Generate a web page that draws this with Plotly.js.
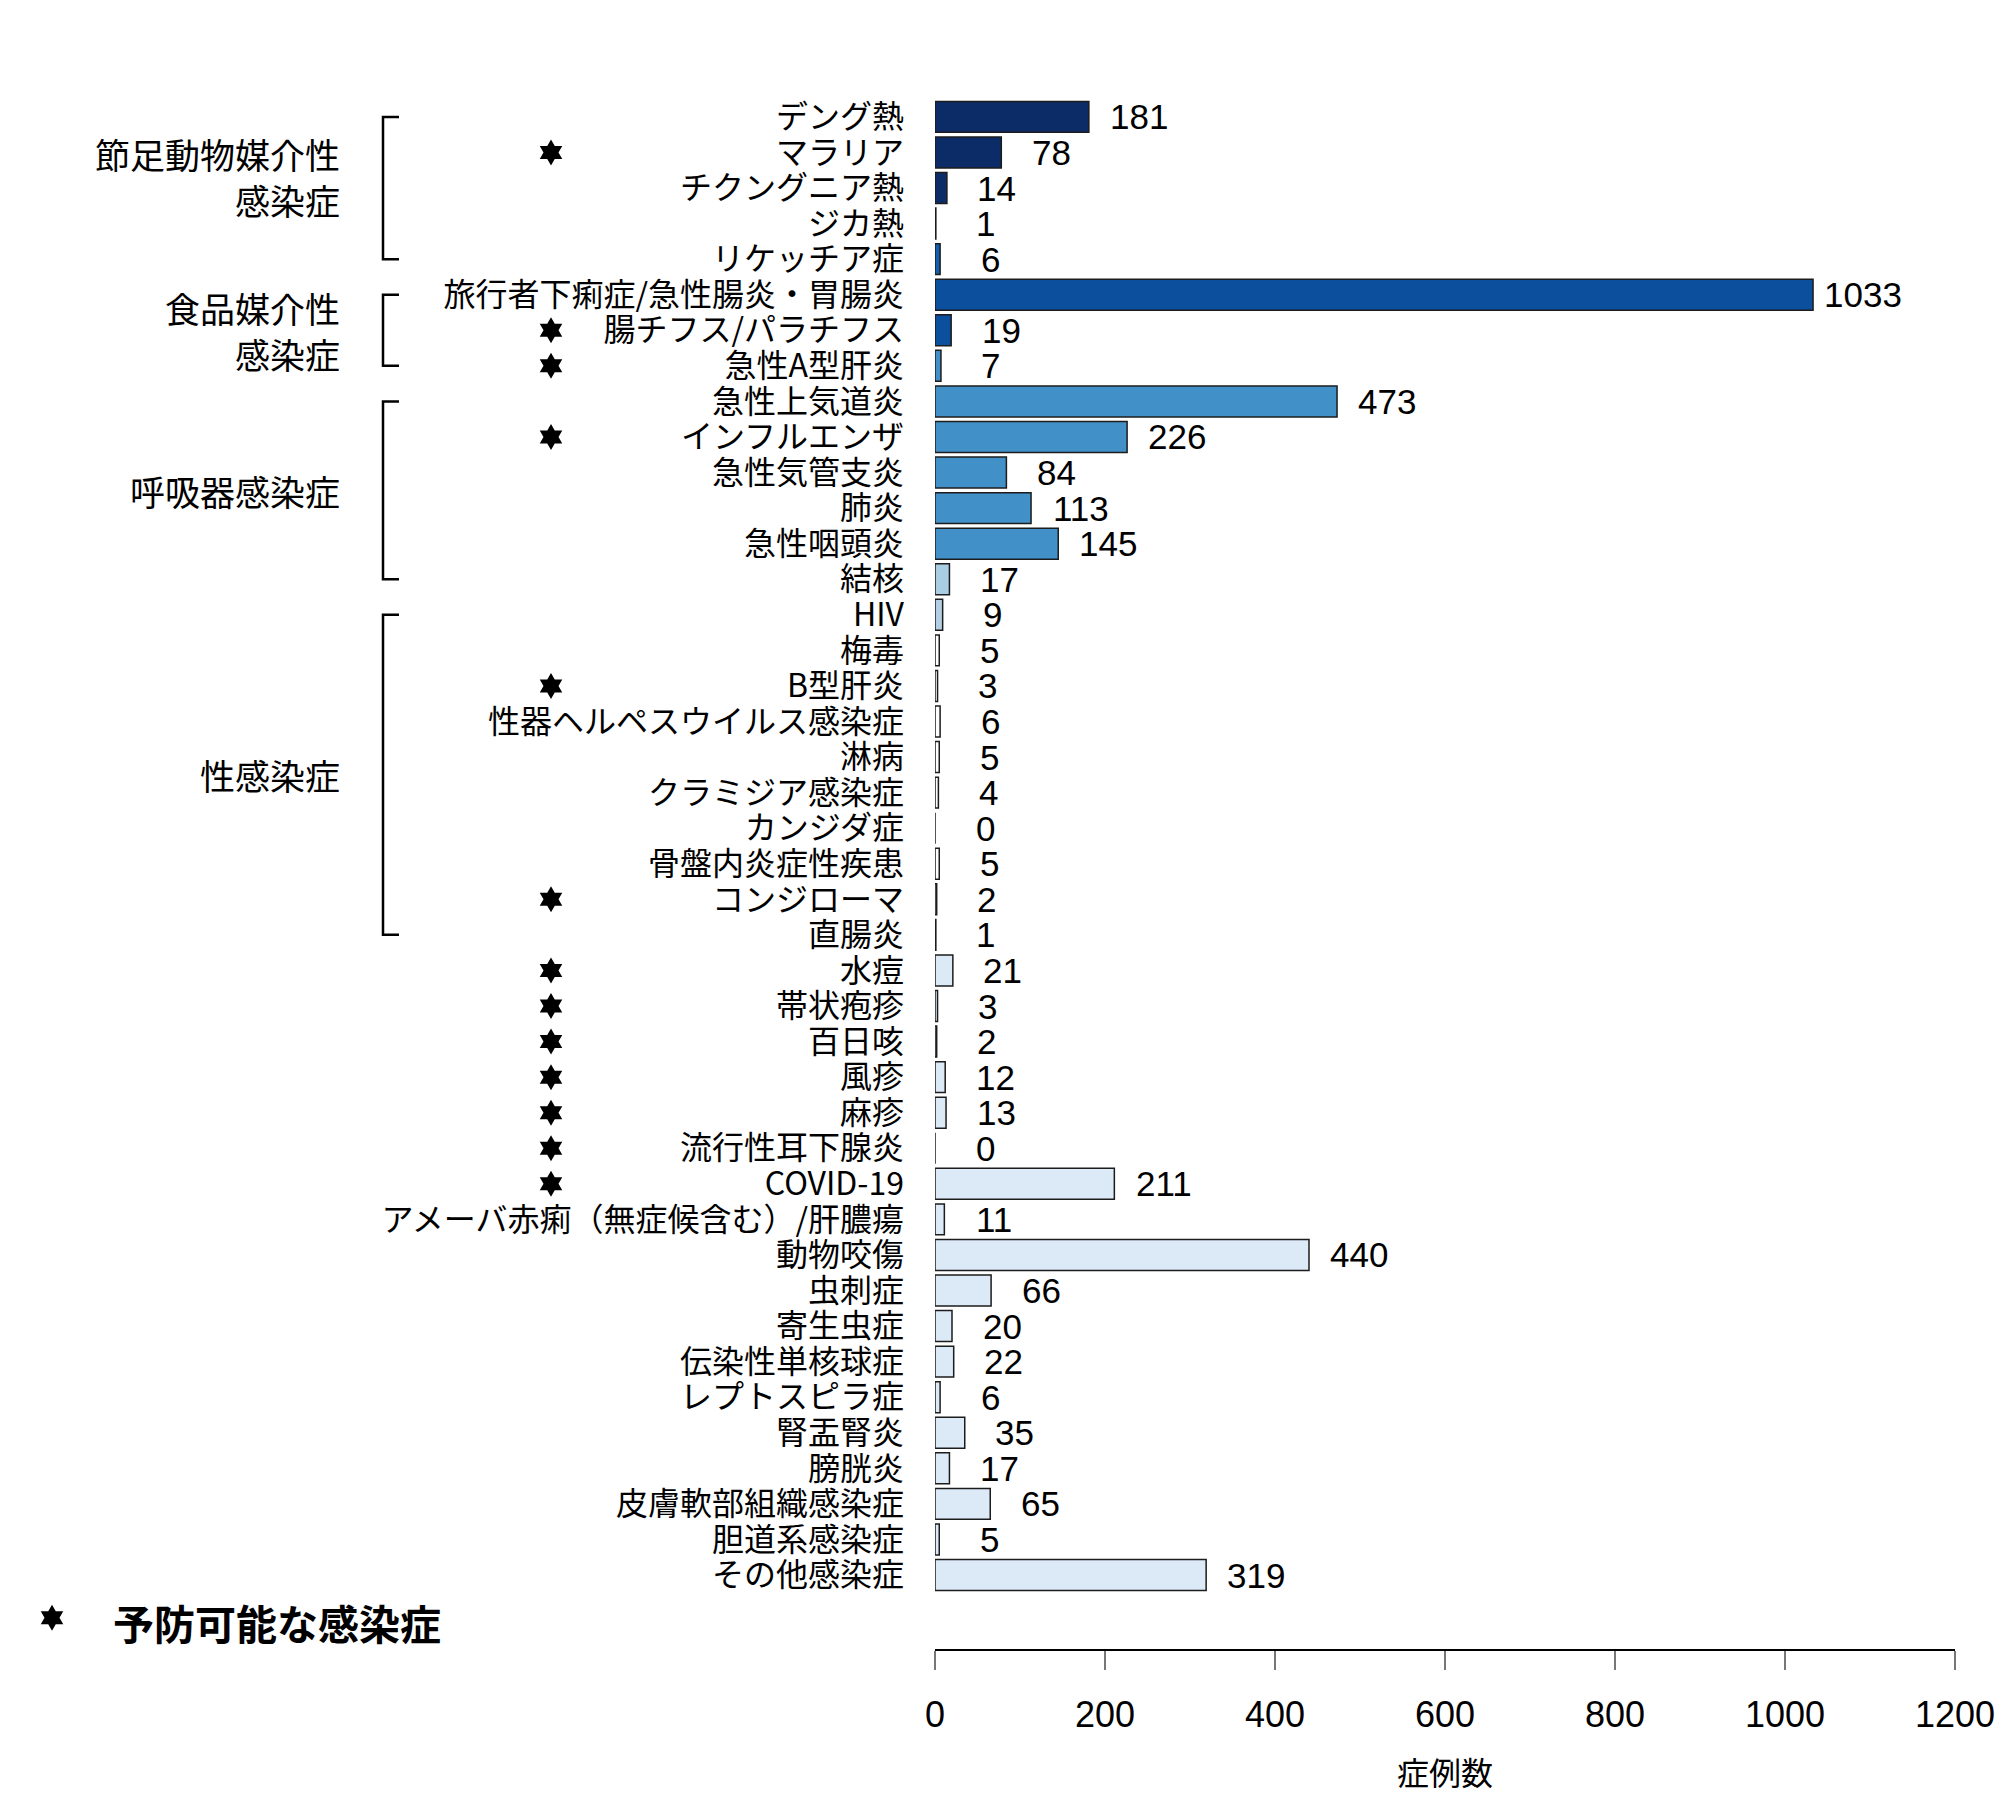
<!DOCTYPE html>
<html>
<head>
<meta charset="utf-8">
<script src="https://cdn.plot.ly/plotly-3.0.1.min.js"></script>
<style>
  body { margin: 0; background: #fff; }
  #chart { width: 2000px; height: 1800px; }
</style>
</head>
<body>
<div id="chart"></div>
<script>
// categories, top to bottom
const categories = [
  "デング熱", "マラリア", "チクングニア熱", "ジカ熱", "リケッチア症",
  "旅行者下痢症/急性腸炎・胃腸炎", "腸チフス/パラチフス", "急性A型肝炎",
  "急性上気道炎", "インフルエンザ", "急性気管支炎", "肺炎", "急性咽頭炎", "結核",
  "HIV", "梅毒", "B型肝炎", "性器ヘルペスウイルス感染症", "淋病", "クラミジア感染症",
  "カンジダ症", "骨盤内炎症性疾患", "コンジローマ", "直腸炎",
  "水痘", "帯状疱疹", "百日咳", "風疹", "麻疹", "流行性耳下腺炎", "COVID-19",
  "アメーバ赤痢（無症候含む）/肝膿瘍", "動物咬傷", "虫刺症", "寄生虫症", "伝染性単核球症",
  "レプトスピラ症", "腎盂腎炎", "膀胱炎", "皮膚軟部組織感染症", "胆道系感染症", "その他感染症"
];
const cases = [
  181, 78, 14, 1, 6,
  1033, 19, 7,
  473, 226, 84, 113, 145, 17,
  9, 5, 3, 6, 5, 4, 0, 5, 2, 1,
  21, 3, 2, 12, 13, 0, 211,
  11, 440, 66, 20, 22, 6, 35, 17, 65, 5, 319
];
// vaccine-preventable diseases (marked with a star)
const preventable = [
  "マラリア", "腸チフス/パラチフス", "急性A型肝炎", "インフルエンザ", "B型肝炎",
  "コンジローマ", "水痘", "帯状疱疹", "百日咳", "風疹", "麻疹", "流行性耳下腺炎", "COVID-19"
];
// bracketed groups
const groupNames = ["節足動物媒介性<br>感染症", "食品媒介性<br>感染症", "呼吸器感染症", "性感染症"];
const groupFirst = ["デング熱", "旅行者下痢症/急性腸炎・胃腸炎", "急性上気道炎", "HIV"];
const groupLast = ["リケッチア症", "急性A型肝炎", "結核", "直腸炎"];
const xTicks = [0, 200, 400, 600, 800, 1000, 1200];

const navy = "#0c2c68", blue = "#0b4f9d", mid = "#1460ad", sky = "#4190c8",
      pale = "#a9cde3", white = "#ffffff", ice = "#dce9f6";
const barColors = [
  navy, navy, navy, navy, mid,
  blue, blue, sky,
  sky, sky, sky, sky, sky, pale,
  "#b4cfe4", white, white, white, white, white, white, white, white, white,
  ice, ice, ice, ice, ice, ice, ice,
  ice, ice, ice, ice, ice, ice, ice, ice, ice, ice, ice
];

const jp = "Noto Sans CJK JP";
const num = "Liberation Sans, Arial, sans-serif";

// x position of left decorations in paper units (plot area starts at 0)
const pad = (px) => (px - 935) / 1020;

// six-pointed star outline in pixels around its anchor
function hexagramPath(R) {
  const r = R / Math.sqrt(3);
  let p = "";
  for (let k = 0; k < 12; k++) {
    const a = Math.PI / 2 + k * Math.PI / 6;
    const rad = k % 2 === 0 ? R : r;
    p += (k === 0 ? "M" : " L") + (rad * Math.cos(a)).toFixed(2) + "," + (rad * Math.sin(a)).toFixed(2);
  }
  return p + " Z";
}
const starPath = hexagramPath(13);

const bars = {
  type: "bar",
  orientation: "h",
  x: cases,
  y: categories,
  marker: { color: barColors, line: { color: "#1c1c1c", width: 1.5 } },
  hoverinfo: "x+y"
};

const annotations = [];
cases.forEach((v, i) => {
  annotations.push({
    x: v, y: categories[i], xref: "x", yref: "y",
    text: String(v), showarrow: false, xanchor: "center", xshift: 50,
    font: { family: num, size: 35, color: "#000" }
  });
});

const shapes = [];
preventable.forEach((c) => {
  shapes.push({
    type: "path", xref: "paper", yref: "y",
    xsizemode: "pixel", ysizemode: "pixel",
    xanchor: pad(551), yanchor: categories.indexOf(c),
    path: starPath,
    fillcolor: "#000", line: { width: 0 }
  });
});
groupNames.forEach((g, i) => {
  const i0 = categories.indexOf(groupFirst[i]);
  const i1 = categories.indexOf(groupLast[i]);
  shapes.push({
    type: "path", xref: "paper", yref: "y",
    path: "M" + pad(399) + "," + i0 + " L" + pad(383) + "," + i0 +
          " L" + pad(383) + "," + i1 + " L" + pad(399) + "," + i1,
    line: { color: "#000", width: 2.5 }
  });
  annotations.push({
    x: pad(342), y: (i0 + i1) / 2, xref: "paper", yref: "y",
    yshift: i === 0 ? 12 : 0,
    text: g, showarrow: false, xanchor: "right", align: "right",
    font: { family: jp, size: 35, color: "#000" }
  });
});

// note below the chart
shapes.push({
  type: "path", xref: "paper", yref: "paper",
  xsizemode: "pixel", ysizemode: "pixel",
  xanchor: pad(52), yanchor: 0.02,
  path: starPath,
  fillcolor: "#000", line: { width: 0 }
});
annotations.push({
  x: pad(111), y: -0.003, xref: "paper", yref: "paper",
  text: "<b>予防可能な感染症</b>", showarrow: false, xanchor: "left",
  font: { family: jp, size: 41, color: "#000" }
});

const layout = {
  width: 2000,
  height: 1800,
  margin: { l: 935, r: 45, t: 92, b: 151 },
  paper_bgcolor: "#fff",
  plot_bgcolor: "#fff",
  showlegend: false,
  bargap: 0.13,
  xaxis: {
    range: [0, 1200],
    tickvals: xTicks,
    showgrid: false,
    zeroline: false,
    showline: true,
    linecolor: "#000",
    linewidth: 2,
    ticks: "outside",
    ticklen: 19,
    tickwidth: 1.5,
    tickcolor: "#777",
    ticklabelstandoff: 14,
    tickfont: { family: num, size: 36, color: "#000" },
    title: { text: "症例数", font: { family: jp, size: 32, color: "#000" }, standoff: 28 }
  },
  yaxis: {
    type: "category",
    categoryorder: "array",
    categoryarray: categories,
    tickmode: "array",
    tickvals: categories,
    ticktext: categories,
    range: [43.08, -0.7],
    showgrid: false,
    zeroline: false,
    showline: false,
    ticks: "",
    ticklabelstandoff: 30,
    tickfont: { family: jp, size: 32, color: "#000" }
  },
  shapes: shapes,
  annotations: annotations
};

Plotly.newPlot("chart", [bars], layout, { staticPlot: true });
</script>
</body>
</html>
